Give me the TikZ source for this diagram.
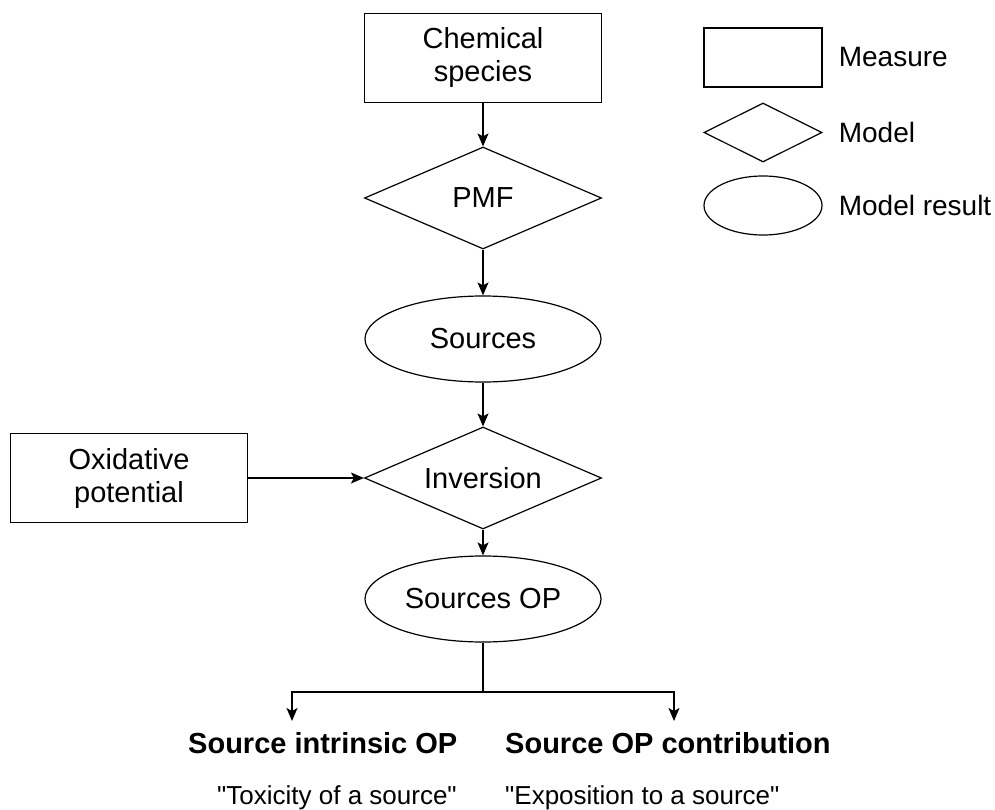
\documentclass[tikz,border=0pt]{standalone}
\usepackage{fontspec}
\setmainfont{Liberation Sans}
\newfontfamily\notefont{Liberation Sans}
\usetikzlibrary{arrows,arrows.meta,shapes.geometric,positioning}

\begin{document}
\begin{tikzpicture}[x=1pt,y=-1pt,
obj/.style={draw,line width=1.2pt,font=\fontsize{29}{33}\selectfont,align=center,inner sep=0pt},
measure/.style={obj,rectangle,minimum width=237pt,minimum height=89pt},
model/.style={obj,diamond,shape aspect=2.3,minimum width=237pt,minimum height=102pt},
result/.style={obj,ellipse,minimum width=236pt,minimum height=86pt},
legend/.style={minimum width=118pt,minimum height=59pt},
legtext/.style={font=\fontsize{28}{32}\selectfont,anchor=west,inner sep=0pt},
outtitle/.style={font=\bfseries\fontsize{29}{34}\selectfont,anchor=base west,inner sep=0pt},
outnote/.style={font=\notefont\fontsize{26}{30}\selectfont,anchor=base west,inner sep=0pt},
arrow/.style={-{Stealth[length=13pt,width=11pt,inset=3pt]},line width=1.2pt}]

\useasboundingbox (0,0) rectangle (995,810);

% main chain
\node[measure](CS) at (483,58) {Chemical\\species};
\node[model](PMF) at (483,198) {PMF};
\node[result](S) at (483,339) {Sources};
\node[model](INV) at (483,478) {Inversion};
\node[measure](OX) at (129,478) {Oxidative\\potential};
\node[result](SOP) at (483,599) {Sources OP};

\draw[arrow] (CS) -- (PMF);
\draw[arrow] (PMF) -- (S);
\draw[arrow] (S) -- (INV);
\draw[arrow] (OX) -- (INV);
\draw[arrow] (INV) -- (SOP);

% outputs
\coordinate (split) at (483,692);
\coordinate (L) at (292,721);
\coordinate (R) at (674,721);

\draw[line width=1.2pt] (SOP) -- (split);
\draw[arrow] (split) -| (L);
\draw[arrow] (split) -| (R);

\node[outtitle](T1) at (188,753) {Source intrinsic OP};
\node[outtitle](T2) at (505,753) {Source OP contribution};
\node[outnote](N1) at (217,804) {"Toxicity of a source"};
\node[outnote](N2) at (505,804) {"Exposition to a source"};

% legend
\node[measure,legend](LM) at (763,57.5) {};
\node[model,legend](LD) at (763,132.5) {};
\node[result,legend](LR) at (763,205.5) {};
\node[legtext,right=16pt of LM] {Measure};
\node[legtext,right=16pt of LD] {Model};
\node[legtext,right=16pt of LR] {Model result};
\end{tikzpicture}
\end{document}
